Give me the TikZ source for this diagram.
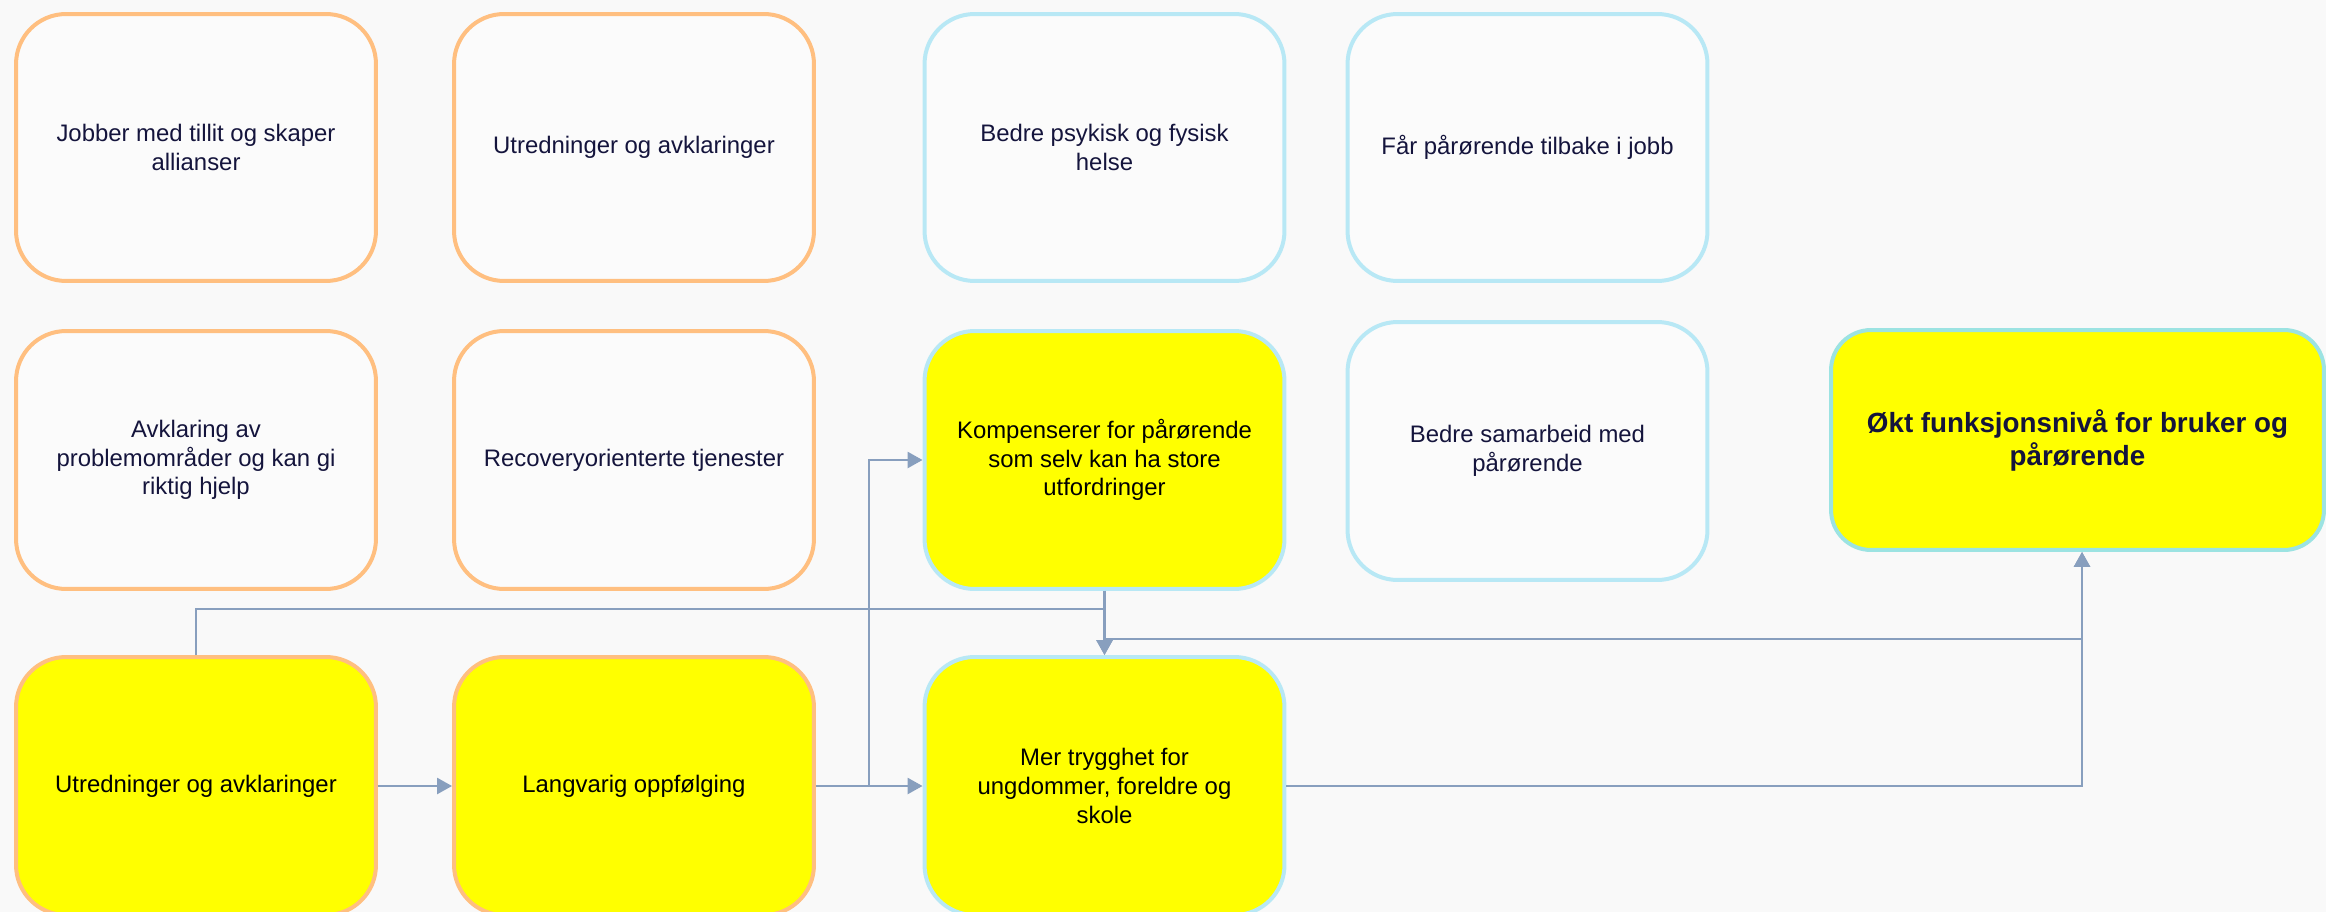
\documentclass[tikz,border=0pt]{standalone}
\usepackage{fontspec}
\setmainfont{Liberation Sans}
\usetikzlibrary{arrows.meta}

\definecolor{bgcol}{HTML}{F9F9F9}
\definecolor{boxfill}{HTML}{FBFBFB}
\definecolor{orangeline}{HTML}{FFBF80}
\definecolor{blueline}{HTML}{B8E8F5}
\definecolor{tealline}{HTML}{9CE3E2}
\definecolor{linkcol}{HTML}{889FBE}
\definecolor{navytext}{HTML}{14143C}
\definecolor{keyyellow}{HTML}{FFFF00}

\tikzset{
  card/.style = {draw, line width=0.08cm, rounded corners=1cm, inner sep=0pt,
                 minimum width=7.2cm, minimum height=5.16cm, text width=6.06cm,
                 align=flush center, font=\fontsize{13.6}{16.4}\selectfont},
  tall/.style = {minimum height=5.34cm},
  oldcard/.style = {card, draw=orangeline, fill=boxfill, text=navytext},
  newcard/.style = {card, draw=blueline, fill=boxfill, text=navytext},
  keycard/.style = {card, fill=keyyellow, text=black},
  link/.style = {draw=linkcol, line width=0.052cm,
                 -{Triangle[width=0.32cm,length=0.3cm]}}
}

\begin{document}
\begin{tikzpicture}[x=0.02cm, y=-0.02cm]
                \clip (0,0) rectangle (2326,912);
                \fill[bgcol] (0,0) rectangle (2326,912);

                \node[oldcard, tall] (tillit) at (196,147.5) {Jobber med tillit og skaper allianser};
                \node[oldcard, tall] (utr1) at (634,147.5) {Utredninger og avklaringer};
                \node[newcard, tall] (helse) at (1104.5,147.5) {Bedre psykisk og fysisk helse};
                \node[newcard, tall] (jobb) at (1527.5,147.5) {Får pårørende tilbake i jobb};

                \node[oldcard] (avkl) at (196,460) {Avklaring av problemområder og kan gi riktig hjelp};
                \node[oldcard] (recov) at (634,460) {Recoveryorienterte tjenester};
                \node[keycard, draw=blueline] (komp) at (1104.5,460) {Kompenserer for pårørende som selv kan ha store utfordringer};
                \node[newcard] (samarb) at (1527.5,451) {Bedre samarbeid med pårørende};
                \node[keycard, draw=tealline, rounded corners=0.8cm, minimum width=9.86cm, minimum height=4.4cm,
                      text width=8.8cm, text=navytext, font=\fontsize{15.8}{18.8}\selectfont\bfseries]
                      (okt) at (2077.5,440) {Økt funksjonsnivå for bruker og pårørende};

                \node[keycard, draw=orangeline] (utr2) at (196,786) {Utredninger og avklaringer};
                \node[keycard, draw=orangeline] (lang) at (634,786) {Langvarig oppfølging};
                \node[keycard, draw=blueline] (trygg) at (1104.5,786) {Mer trygghet for ungdommer, foreldre og skole};

                \coordinate (split) at (869,786);

                \draw[link] (utr2) -- (lang);
                \draw[link] (lang) -- (trygg);
                \draw[link] (lang.east) -- (split) |- (komp.west);
                \draw[link] (utr2.north) -- ++(0,-46) -| (trygg.north);
                \draw[link] (komp) -- (trygg);
                \draw[link] (komp.south) -- ++(0,48) -| ([xshift=0.09cm]okt.south);
                \draw[link] (trygg.east) -| ([xshift=0.09cm]okt.south);

        \end{tikzpicture}
\end{document}
